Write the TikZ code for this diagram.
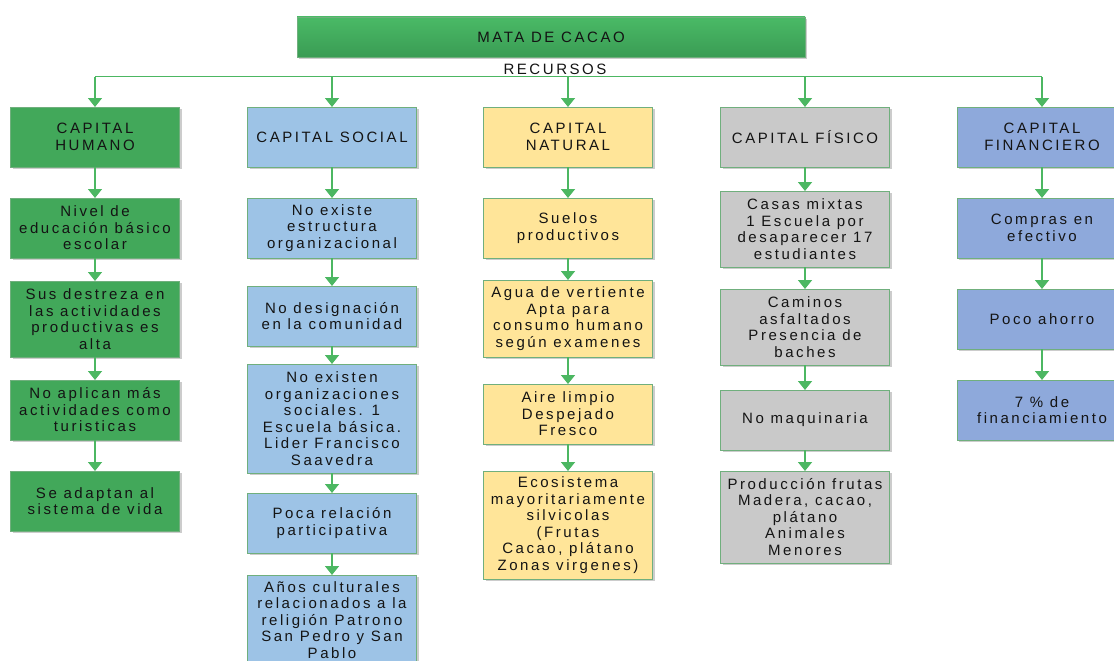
\documentclass[tikz,border=0pt]{standalone}
\usepackage{fontspec}
\setmainfont{Liberation Sans}[LetterSpace=17]
\usepackage{tikz}
\usetikzlibrary{arrows.meta, positioning, shadows}
\definecolor{topgreen}{RGB}{74,186,102}
\definecolor{darkgreen}{RGB}{58,156,84}
\definecolor{humgreen}{RGB}{66,168,90}
\definecolor{socblue}{RGB}{157,195,230}
\definecolor{natyellow}{RGB}{255,229,153}
\definecolor{fisgray}{RGB}{201,201,201}
\definecolor{finblue}{RGB}{142,169,219}
\definecolor{edgegreen}{RGB}{112,175,125}
\definecolor{arrowgreen}{RGB}{76,183,98}
\definecolor{textdark}{RGB}{20,20,20}

\begin{document}
\begin{tikzpicture}[x=1pt, y=-1pt,
        node distance=23pt,
        box/.style={rectangle, draw=edgegreen, line width=0.8pt, outer sep=0pt, minimum width=169pt, minimum height=60pt, align=center, inner sep=2pt, font=\fontsize{15}{16.5}\selectfont, text=textdark, drop shadow={shadow xshift=2pt, shadow yshift=-2pt, opacity=0.2, fill=black}},
        hum/.style={box, fill=humgreen},
        soc/.style={box, fill=socblue},
        nat/.style={box, fill=natyellow},
        fis/.style={box, fill=fisgray},
        fin/.style={box, fill=finblue, minimum width=170pt},
        bus/.style={arrowgreen, line width=1pt},
        arrow/.style={-{Triangle[width=14pt, length=9pt]}, arrowgreen, line width=1.6pt}
    ]
        \clip (0,0) rectangle (1114,661);
        \fill[white] (0,0) rectangle (1114,661);

        % Top
        \node[box, minimum width=508pt, minimum height=40pt, top color=topgreen, bottom color=darkgreen] (mata) at (551,37) {MATA DE CACAO};
        \node[font=\fontsize{15}{16.5}\selectfont, text=textdark, inner sep=1pt] (recursos) at (555,69) {RECURSOS};

        % Capitals
        \node[hum] (hum) at (95,137) {CAPITAL\\HUMANO};
        \node[soc] (soc) at (332,137) {CAPITAL SOCIAL};
        \node[nat] (nat) at (568,137) {CAPITAL\\NATURAL};
        \node[fis] (fis) at (805,137) {CAPITAL FÍSICO};
        \node[fin] (fin) at (1042,137) {CAPITAL\\FINANCIERO};

        % Humano
        \node[hum, below=31pt of hum] (hum1) {Nivel de\\educación básico\\escolar};
        \node[hum, minimum height=76pt, below=of hum1] (hum2) {Sus destreza en\\las actividades\\productivas es\\alta};
        \node[hum, below=of hum2] (hum3) {No aplican más\\actividades como\\turisticas};
        \node[hum, below=31pt of hum3] (hum4) {Se adaptan al\\sistema de vida};

        % Social
        \node[soc, below=31pt of soc] (soc1) {No existe\\estructura\\organizacional};
        \node[soc, below=28pt of soc1] (soc2) {No designación\\en la comunidad};
        \node[soc, minimum height=109pt, below=18pt of soc2] (soc3) {No existen\\organizaciones\\sociales. 1\\Escuela básica.\\Lider Francisco\\Saavedra};
        \node[soc, below=20pt of soc3] (soc4) {Poca relación\\participativa};
        \node[soc, minimum height=90pt, below=22pt of soc4] (soc5) {Años culturales\\relacionados a la\\religión Patrono\\San Pedro y San\\Pablo};

        % Natural
        \node[nat, below=31pt of nat] (nat1) {Suelos\\productivos};
        \node[nat, minimum height=77pt, below=22pt of nat1] (nat2) {Agua de vertiente\\Apta para\\consumo humano\\según examenes};
        \node[nat, below=27pt of nat2] (nat3) {Aire limpio\\Despejado\\Fresco};
        \node[nat, minimum height=108pt, below=27pt of nat3] (nat4) {Ecosistema\\mayoritariamente\\silvicolas\\(Frutas\\Cacao, plátano\\Zonas virgenes)};

        % Fisico
        \node[fis, minimum height=76pt, below=24pt of fis] (fis1) {Casas mixtas\\1 Escuela por\\desaparecer 17\\estudiantes};
        \node[fis, minimum height=76pt, below=22pt of fis1] (fis2) {Caminos\\asfaltados\\Presencia de\\baches};
        \node[fis, below=25pt of fis2] (fis3) {No maquinaria};
        \node[fis, minimum height=92pt, below=21pt of fis3] (fis4) {Producción frutas\\Madera, cacao,\\plátano\\Animales\\Menores};

        % Financiero
        \node[fin, below=31pt of fin] (fin1) {Compras en\\efectivo};
        \node[fin, below=31pt of fin1] (fin2) {Poco ahorro};
        \node[fin, below=31pt of fin2] (fin3) {7 \% de\\financiamiento};

        % Bus
        \coordinate (busline) at (0,77);
        \draw[bus] (hum |- busline) -- (fin |- busline);
        \foreach \c in {hum, soc, nat, fis, fin}
            \draw[arrow] (\c |- busline) -- (\c.north);

        % Arrows
        \foreach \c/\n in {hum/4, soc/5, nat/4, fis/4, fin/3} {
            \draw[arrow] (\c) -- (\c1);
            \foreach \i [remember=\i as \j (initially 1)] in {2,...,\n}
                \draw[arrow] (\c\j) -- (\c\i);
        }
    \end{tikzpicture}
\end{document}
